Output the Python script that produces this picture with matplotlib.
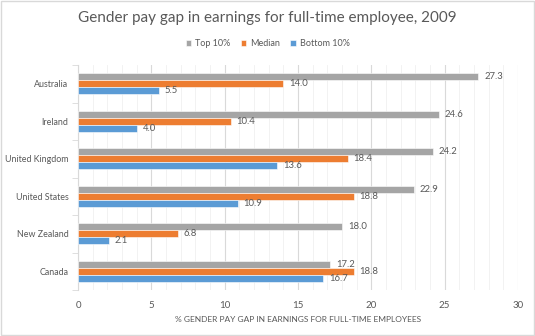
import matplotlib.pyplot as plt
import numpy as np

plt.rcParams['font.family'] = ['Lato', 'DejaVu Sans']

countries = ["Australia", "Ireland", "United Kingdom", "United States", "New Zealand", "Canada"]
top10 = [27.3, 24.6, 24.2, 22.9, 18.0, 17.2]
median = [14.0, 10.4, 18.4, 18.8, 6.8, 18.8]
bottom10 = [5.5, 4.0, 13.6, 10.9, 2.1, 16.7]

series = [("Top 10%", top10, "#A5A5A5"),
          ("Median", median, "#ED7D31"),
          ("Bottom 10%", bottom10, "#5B9BD5")]

text_col = "#595959"

fig = plt.figure(figsize=(5.35, 3.36), dpi=100)
ax = fig.add_axes([78 / 535, 1 - 290 / 336, 440 / 535, 225 / 336])

# border round the chart area
fig.patches.append(plt.Rectangle((0.002, 0.003), 0.996, 0.994, transform=fig.transFigure,
                                 fill=False, edgecolor="#D9D9D9", linewidth=1))

y = np.arange(len(countries))
h = 0.19
for i, (name, vals, col) in enumerate(series):
    pos = y + (i - 1) * h
    bars = ax.barh(pos, vals, height=h, color=col, label=name,
                   edgecolor="white", linewidth=0.4, zorder=3)
    for b, v in zip(bars, vals):
        ax.text(v + 0.4, b.get_y() + b.get_height() / 2, f"{v:.1f}",
                va="center", ha="left", fontsize=6.8, color=text_col, zorder=4)

ax.set_xlim(0, 30)
ax.set_ylim(len(countries) - 0.5, -0.5)
ax.set_xticks(range(0, 31, 5))
ax.set_xticks(range(0, 31, 1), minor=True)
ax.set_yticks(y)
ax.set_yticklabels(countries)
ax.set_yticks(np.arange(-0.5, len(countries), 1), minor=True)

ax.grid(axis="x", which="major", color="#D9D9D9", linewidth=0.8, zorder=0)
ax.grid(axis="x", which="minor", color="#F0F0F0", linewidth=0.6, zorder=0)

for s in ["top", "right", "bottom"]:
    ax.spines[s].set_visible(False)
ax.spines["left"].set_color("#D9D9D9")

ax.tick_params(axis="y", which="major", length=0, pad=7, labelsize=6.4, labelcolor=text_col)
ax.tick_params(axis="y", which="minor", length=4, color="#D9D9D9")
ax.tick_params(axis="x", which="both", length=0, pad=8, labelsize=7, labelcolor=text_col)

ax.set_xlabel("% GENDER PAY GAP IN EARNINGS FOR FULL-TIME EMPLOYEES",
              fontsize=6, color=text_col, labelpad=4)

fig.text(0.5, 1 - 18 / 336, "Gender pay gap in earnings for full-time employee, 2009",
         ha="center", va="center", fontsize=11, color=text_col)

fig.legend(loc="center", bbox_to_anchor=(0.5, 1 - 44 / 336), ncol=3, frameon=False,
           fontsize=6.5, labelcolor=text_col, handlelength=0.6, handleheight=0.6,
           columnspacing=1.2, handletextpad=0.4)

fig.savefig("out.png", dpi=100)
